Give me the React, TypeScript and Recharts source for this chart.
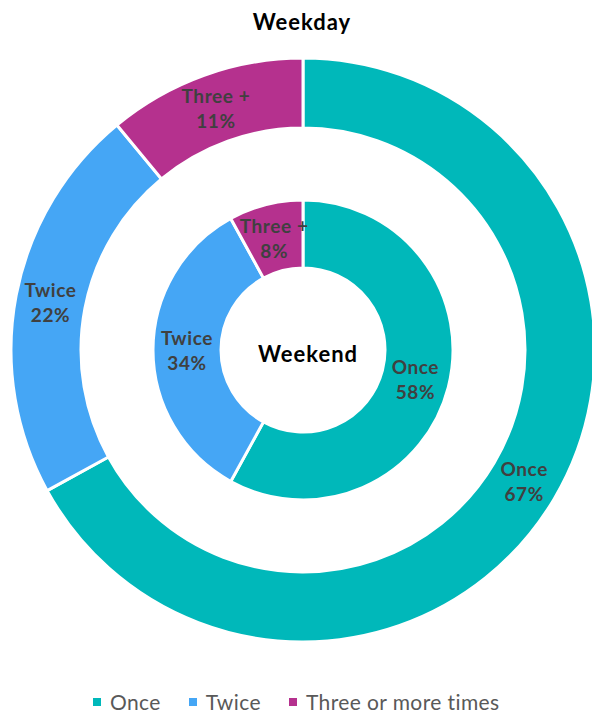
import React from 'react';
import { PieChart, Pie, Cell } from 'recharts';

const categories = ['Once', 'Twice', 'Three or more times'];
const shortLabels = ['Once', 'Twice', 'Three +'];
const weekday = [67, 22, 11];
const weekend = [58, 34, 8];
const colors = ['#00B8BA', '#45A6F5', '#B5318E'];

const font = 'Lato, "Open Sans", sans-serif';

const RADIAN = Math.PI / 180;

const renderLabel = (props: any) => {
  const { cx, cy, midAngle, innerRadius, outerRadius, payload } = props;
  const r = (innerRadius + outerRadius) / 2;
  const x = cx + r * Math.cos(-midAngle * RADIAN);
  const y = cy + r * Math.sin(-midAngle * RADIAN);
  return (
    <text x={x} y={y} textAnchor="middle" fill="#404040" fontFamily={font} fontWeight={700} fontSize={19} letterSpacing={0.6}>
      <tspan x={x} dy={-5}>{payload.label}</tspan>
      <tspan x={x} dy={25}>{payload.value}%</tspan>
    </text>
  );
};

export default function App() {
  const outerData = categories.map((c, i) => ({ name: c, label: shortLabels[i], value: weekday[i] }));
  const innerData = categories.map((c, i) => ({ name: c, label: shortLabels[i], value: weekend[i] }));

  return (
    <div style={{ position: 'absolute', left: 0, top: 0, width: 592, height: 715, background: '#fff' }}>
      <PieChart width={592} height={715} margin={{ top: 0, right: 0, bottom: 0, left: 0 }}>
        <Pie
          data={outerData}
          dataKey="value"
          cx={303}
          cy={350}
          innerRadius={222}
          outerRadius={292}
          startAngle={90}
          endAngle={-270}
          stroke="#fff"
          strokeWidth={3}
          label={renderLabel}
          labelLine={false}
          isAnimationActive={false}
        >
          {outerData.map((d, i) => (
            <Cell key={d.name} fill={colors[i]} />
          ))}
        </Pie>
        <Pie
          data={innerData}
          dataKey="value"
          cx={303}
          cy={350}
          innerRadius={82}
          outerRadius={150}
          startAngle={90}
          endAngle={-270}
          stroke="#fff"
          strokeWidth={3}
          label={renderLabel}
          labelLine={false}
          isAnimationActive={false}
        >
          {innerData.map((d, i) => (
            <Cell key={d.name} fill={colors[i]} />
          ))}
        </Pie>
      </PieChart>
      <div style={{ position: 'absolute', left: 0, width: 604, top: 8, textAlign: 'center', fontFamily: font, fontWeight: 700, fontSize: 22, letterSpacing: 1, color: '#000' }}>
        Weekday
      </div>
      <div style={{ position: 'absolute', left: 208, width: 200, top: 340, textAlign: 'center', fontFamily: font, fontWeight: 700, fontSize: 22, letterSpacing: 1, color: '#000' }}>
        Weekend
      </div>
      <div style={{ position: 'absolute', left: 93, top: 689, display: 'flex', alignItems: 'center', fontFamily: font, fontSize: 21, letterSpacing: 0.4, color: '#595959' }}>
        {categories.map((c, i) => (
          <div key={c} style={{ display: 'flex', alignItems: 'center', marginRight: 28 }}>
            <span style={{ width: 8, height: 8, background: colors[i], display: 'inline-block', marginRight: 9 }} />
            <span>{c}</span>
          </div>
        ))}
      </div>
    </div>
  );
}
